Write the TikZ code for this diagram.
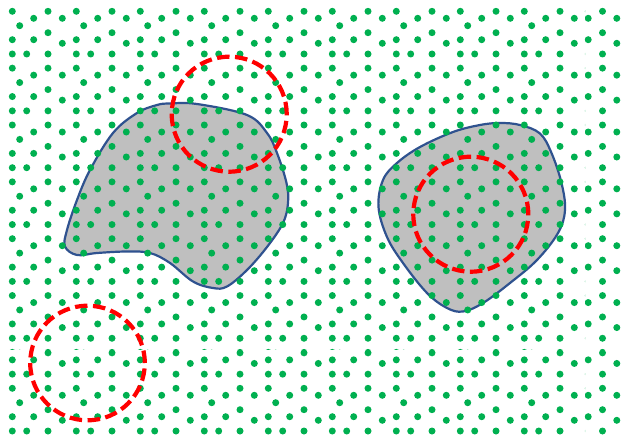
\documentclass[tikz,border=0pt]{standalone}
\usepackage{tikz}
\usetikzlibrary{calc}
\definecolor{dotgreen}{RGB}{0,176,80}
\definecolor{blobblue}{RGB}{47,82,143}
\definecolor{blobgrey}{RGB}{191,191,191}
\tikzstyle{gdot} = [fill=dotgreen]
\tikzstyle{blob} = [draw=blobblue, line width=2.2pt, fill=blobgrey]
\tikzstyle{redring} = [draw=red, line width=4.2pt, dash pattern=on 12.5pt off 5.5pt]
% one tile of the dot pattern (64 x 56.85)
\def\dotlist{12.3/11.3, 48/11.3, 33.7/18.3, 62.3/18.3, 19.7/25.7, 48/32.7,
  12.3/39.7, 33.7/39.7, 62.3/43.3, 12.3/54, 26.7/54, 48/54}
\newcommand{\dotblock}[4]{%
  \foreach \i in {0,...,#3}
    \foreach \j in {0,...,#4}
      \foreach \px/\py in \dotlist
        \fill[gdot] ({#1+\i*64+\px},{#2+\j*56.85+\py}) circle [radius=3.5pt];%
}

\begin{document}
\begin{tikzpicture}[x=1pt, y=-1pt]
\useasboundingbox (0,0) rectangle (621,436);

% grey regions
\draw[blob] plot[smooth cycle, tension=0.6] coordinates {
  (170,103.5) (197,104) (247,115) (267,133) (277,153) (286.5,183)
  (288,203) (283,223) (267,247) (247,270) (227,286.5) (213,288)
  (193,281.5) (170,263) (150,253) (127,251.5) (97,253) (77,255)
  (65,246.5) (67,230) (77,200) (90,170) (113,133) (137,113) (157,105)};
\draw[blob] plot[smooth cycle, tension=0.6] coordinates {
  (500,123) (520,125) (540,133.5) (551.5,153) (561.5,183) (565,210)
  (558,233) (537,260) (510,283) (483,303) (463,311.5) (447,308)
  (427,293) (403,263) (387,237) (378.5,207) (383,180) (397,163)
  (420,147) (453,132) (480,125)};

% dots, four pasted blocks
\begin{scope}
  \clip (0,0) rectangle (585,349);
  \dotblock{0}{0}{9}{6}
\end{scope}
\begin{scope}
  \clip (0,349) rectangle (585,436);
  \dotblock{0}{320.15}{9}{2}
\end{scope}
\begin{scope}
  \clip (585,0) rectangle (621,349);
  \dotblock{554.5}{0}{0}{6}
\end{scope}
\begin{scope}
  \clip (585,349) rectangle (621,436);
  \dotblock{554.5}{320.15}{0}{2}
\end{scope}

% sampling windows
\draw[redring] (229.2,114.2) circle [radius=57.5pt];
\draw[redring] (470.8,214.2) circle [radius=57.5pt];
\draw[redring] (87.5,363) circle [radius=57.3pt];

\end{tikzpicture}
\end{document}
